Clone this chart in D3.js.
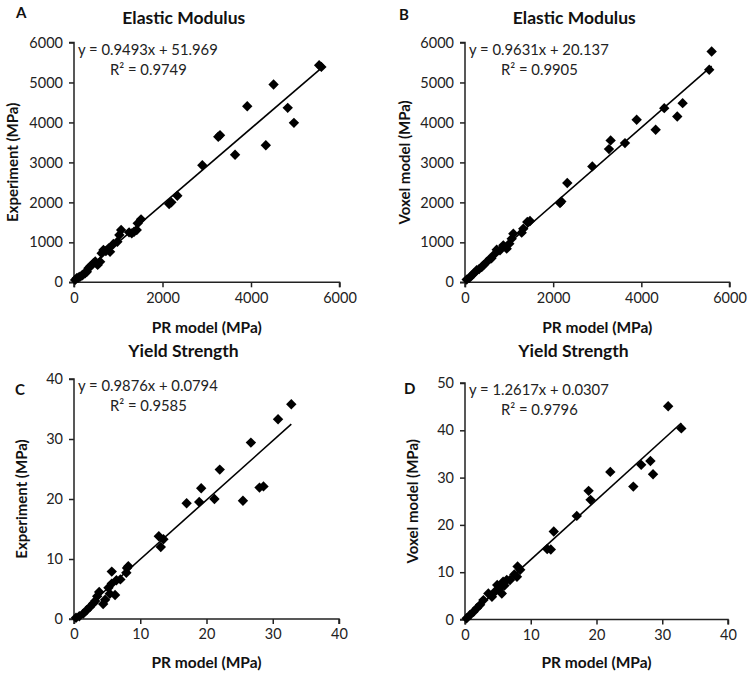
<!DOCTYPE html>
<html><head><meta charset="utf-8">
<script src="https://cdn.jsdelivr.net/npm/d3@7/dist/d3.min.js"></script>
<style>body{margin:0;background:#fff}svg{display:block}</style>
</head><body><svg id="c" width="750" height="679"></svg>
<script>
// ---- data ----
const prA  = [5540,5590,4510,3915,4830,4970,4335,3640,3300,3260,2900,2335,2150,2200,1515,1440,1357,1245,1065,1025,980,890,780,665,625,535,440,325,250,135,60,25,720,815,590,290,180,100,1305,1418,370,480,210];
const expA = [5430,5390,4950,4405,4365,3990,3430,3190,3680,3640,2930,2165,1960,2000,1575,1475,1265,1250,1310,1185,1015,960,850,810,725,435,475,350,225,140,100,60,780,765,515,265,170,120,1225,1308,400,520,200];
const prB  = [5595,5540,4937,4815,4520,4325,3894,3629,3304,3266,2888,2320,2155,2185,1474,1413,1322,1286,1096,1059,1005,946,869,794,719,680,567,492,379,265,152,38,600,420,320,210,100];
const voxB = [5775,5317,4483,4150,4358,3817,4067,3483,3550,3333,2900,2483,1983,2020,1533,1508,1342,1242,1217,1092,967,842,925,800,817,717,592,508,383,300,175,67,600,430,330,230,110];
const prC  = [32.8,30.8,26.7,22.0,19.2,18.9,17.0,21.2,25.5,28.0,28.6,12.8,13.5,13.1,8.2,7.9,7.0,5.7,6.4,5.7,5.2,5.4,4.7,4.4,3.8,3.5,2.9,2.4,1.9,1.4,0.8,0.3,6.2,8.0,3.2];
const expC = [35.8,33.3,29.4,24.9,21.8,19.5,19.3,20.0,19.7,21.9,22.1,13.8,13.3,12.0,8.8,7.7,6.6,7.9,6.45,5.9,5.2,4.2,3.2,2.5,4.5,3.8,2.6,2.0,1.45,0.9,0.45,0.2,4.0,8.5,3.0];
const prD  = [30.9,32.9,28.2,26.8,28.6,25.6,22.1,18.8,19.1,17.0,13.5,12.5,13.05,8.0,8.4,7.9,6.85,6.35,5.8,5.3,5.6,4.9,3.55,4.1,2.8,2.3,1.8,1.3,0.76,0.25,7.5,6.0,4.5];
const voxD = [45.1,40.4,33.5,32.7,30.7,28.1,31.2,27.2,25.3,21.9,18.6,14.9,14.8,11.2,10.5,9.05,8.35,8.35,8.0,6.6,5.5,7.3,5.5,4.8,4.1,3.1,2.4,1.65,0.95,0.25,9.5,7.2,5.8];

const titles   = ["Elastic Modulus","Elastic Modulus","Yield Strength","Yield Strength"];
const letters  = ["A","B","C","D"];
const xLabels  = ["PR model (MPa)","PR model (MPa)","PR model (MPa)","PR model (MPa)"];
const yLabels  = ["Experiment (MPa)","Voxel model (MPa)","Experiment (MPa)","Voxel model (MPa)"];
const slopes   = [0.9493,0.9631,0.9876,1.2617];
const intercepts = [51.969,20.137,0.0794,0.0307];
const eqTexts  = ["y = 0.9493x + 51.969","y = 0.9631x + 20.137","y = 0.9876x + 0.0794","y = 1.2617x + 0.0307"];
const r2Texts  = ["R² = 0.9749","R² = 0.9905","R² = 0.9585","R² = 0.9796"];
const xMaxs = [6000,6000,40,40];
const yMaxs = [6000,6000,40,50];
const xTickVals = [[0,2000,4000,6000],[0,2000,4000,6000],[0,10,20,30,40],[0,10,20,30,40]];
const yTickVals = [[0,1000,2000,3000,4000,5000,6000],[0,1000,2000,3000,4000,5000,6000],[0,10,20,30,40],[0,10,20,30,40,50]];
const xsAll = [prA,prB,prC,prD];
const ysAll = [expA,voxB,expC,voxD];

// ---- layout ----
const boxes = [
  {l:74, r:339.5, t:42.5, b:282.3, yl:13, lx:16, ly:18},
  {l:465, r:729.5, t:42.5, b:282.3, yl:405, lx:399, ly:20},
  {l:74, r:339, t:379, b:619, yl:22, lx:15, ly:395},
  {l:465, r:728, t:383, b:619.5, yl:413, lx:404, ly:394}
];
const FONT = "Lato, 'Open Sans', sans-serif";
const svg = d3.select("#c");
const diamond = "M0,-5.2L5.2,0L0,5.2L-5.2,0Z";

boxes.forEach((bx,i)=>{
  const x = d3.scaleLinear().domain([0,xMaxs[i]]).range([bx.l,bx.r]);
  const y = d3.scaleLinear().domain([0,yMaxs[i]]).range([bx.b,bx.t]);
  const g = svg.append("g");

  const ax = g.append("g").attr("transform",`translate(0,${bx.b})`)
    .call(d3.axisBottom(x).tickValues(xTickVals[i]).tickSize(5).tickPadding(5).tickFormat(d3.format("d")));
  const ay = g.append("g").attr("transform",`translate(${bx.l},0)`)
    .call(d3.axisLeft(y).tickValues(yTickVals[i]).tickSize(5).tickPadding(6).tickFormat(d3.format("d")));
  [ax,ay].forEach(a=>{
    a.select(".domain").attr("stroke","#222").attr("stroke-width",1.5);
    a.selectAll(".tick line").attr("stroke","#222").attr("stroke-width",1.5);
    a.selectAll("text").attr("font-family",FONT).attr("font-size",14.5).attr("fill","#222");
  });
  ax.select(".domain").attr("d",`M${bx.l},5V0H${bx.r}V5`);
  ay.select(".domain").attr("d",`M-5,${bx.t}H0V${bx.b}H-5`);

  // points
  g.append("g").selectAll("path").data(xsAll[i].map((v,k)=>[v,ysAll[i][k]])).join("path")
    .attr("d",diamond).attr("fill","#000")
    .attr("transform",d=>`translate(${x(d[0])},${y(d[1])})`);

  // trend line
  const xmin = d3.min(xsAll[i]), xmax = d3.max(xsAll[i]);
  g.append("line")
    .attr("x1",x(xmin)).attr("y1",y(slopes[i]*xmin+intercepts[i]))
    .attr("x2",x(xmax)).attr("y2",y(slopes[i]*xmax+intercepts[i]))
    .attr("stroke","#000").attr("stroke-width",1.6);

  // equation
  g.append("text").attr("x",bx.l+4).attr("y",bx.t+12).attr("font-family",FONT).attr("font-size",14.8)
    .attr("fill","#222").text(eqTexts[i]);
  g.append("text").attr("x",bx.l+36).attr("y",bx.t+32).attr("font-family",FONT).attr("font-size",14.8)
    .attr("fill","#222").text(r2Texts[i]);

  // titles
  g.append("text").attr("x",(bx.l+bx.r)/2-23).attr("y",i<2?24:357).attr("text-anchor","middle")
    .attr("font-family",FONT).attr("font-size",17.5).attr("font-weight","bold").attr("fill","#111").text(titles[i]);
  g.append("text").attr("x",(bx.l+bx.r)/2).attr("y",i<2?333:668).attr("text-anchor","middle")
    .attr("font-family",FONT).attr("font-size",15.5).attr("font-weight","bold").attr("fill","#111").text(xLabels[i]);
  g.append("text").attr("transform",`translate(${bx.yl+5},${(bx.t+bx.b)/2}) rotate(-90)`).attr("text-anchor","middle")
    .attr("font-family",FONT).attr("font-size",15).attr("font-weight","bold").attr("fill","#111").text(yLabels[i]);
  g.append("text").attr("x",bx.lx).attr("y",bx.ly)
    .attr("font-family",FONT).attr("font-size",15).attr("font-weight","bold").attr("fill","#111").text(letters[i]);
});
</script>
</body></html>
